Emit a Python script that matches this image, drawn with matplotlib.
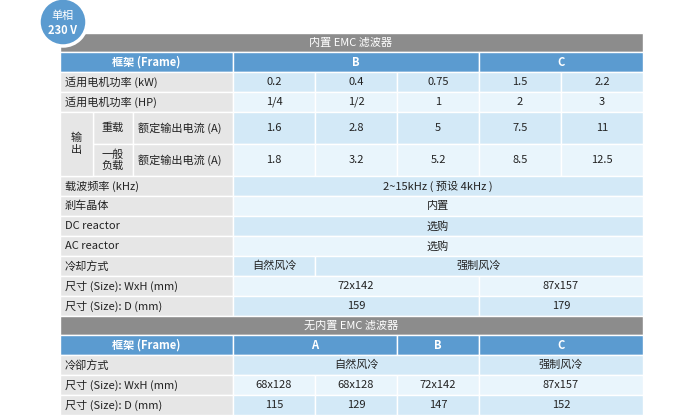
import matplotlib.pyplot as plt
from matplotlib.patches import Rectangle, Circle

plt.rcParams['font.family'] = ['Noto Sans CJK SC', 'DejaVu Sans']

# column edges (5 value columns)
col_x = [233, 315, 397, 479, 561, 643]
left = 60

# data: (label, [(text, span), ...])
top_title = "内置 EMC 滤波器"
top_frames = [("B", 3), ("C", 2)]
top_rows = [
    ("适用电机功率 (kW)", [("0.2", 1), ("0.4", 1), ("0.75", 1), ("1.5", 1), ("2.2", 1)]),
    ("适用电机功率 (HP)", [("1/4", 1), ("1/2", 1), ("1", 1), ("2", 1), ("3", 1)]),
    ("额定输出电流 (A)", [("1.6", 1), ("2.8", 1), ("5", 1), ("7.5", 1), ("11", 1)]),
    ("额定输出电流 (A)", [("1.8", 1), ("3.2", 1), ("5.2", 1), ("8.5", 1), ("12.5", 1)]),
    ("载波频率 (kHz)", [("2~15kHz ( 预设 4kHz )", 5)]),
    ("剎车晶体", [("内置", 5)]),
    ("DC reactor", [("选购", 5)]),
    ("AC reactor", [("选购", 5)]),
    ("冷却方式", [("自然风冷", 1), ("强制风冷", 4)]),
    ("尺寸 (Size): WxH (mm)", [("72x142", 3), ("87x157", 2)]),
    ("尺寸 (Size): D (mm)", [("159", 3), ("179", 2)]),
]
top_heights = [20, 20, 32, 32, 20, 20, 20, 20, 20, 20, 20]

bot_title = "无内置 EMC 滤波器"
bot_frames = [("A", 2), ("B", 1), ("C", 2)]
bot_rows = [
    ("冷卻方式", [("自然风冷", 3), ("强制风冷", 2)]),
    ("尺寸 (Size): WxH (mm)", [("68x128", 1), ("68x128", 1), ("72x142", 1), ("87x157", 2)]),
    ("尺寸 (Size): D (mm)", [("115", 1), ("129", 1), ("147", 1), ("152", 2)]),
]

GRAY = "#8c8c8c"
BLUE = "#5b9bd0"
LABEL = "#e6e6e6"
DARK = "#d3e9f7"
LIGHT = "#e9f5fc"
FS = 8

fig = plt.figure(figsize=(7, 4.19), dpi=100)
ax = fig.add_axes([0, 0, 1, 1])
ax.set_xlim(0, 700)
ax.set_ylim(419, 0)
ax.axis('off')


def cell(x0, y0, w, h, color, text="", tc="#222222", ha="center", bold=False):
    ax.add_patch(Rectangle((x0, y0), w, h, facecolor=color, edgecolor="white", lw=1))
    if text:
        tx = x0 + w / 2 if ha == "center" else x0 + 5
        ax.text(tx, y0 + h / 2, text, ha=ha, va="center", fontsize=FS, color=tc,
                fontweight="bold" if bold else "normal")


def values(y, h, cells, color):
    i = 0
    for txt, span in cells:
        cell(col_x[i], y, col_x[i + span] - col_x[i], h, color, txt)
        i += span


def section(y, title, frames, rows, heights, sub=False):
    cell(left, y, col_x[-1] - left, 19, GRAY)
    ax.text(351, y + 10, title, ha="center", va="center", fontsize=FS, color="white")
    y += 19
    cell(left, y, col_x[0] - left, 20, BLUE, "框架 (Frame)", tc="white", bold=True)
    values(y, 20, [(f, s) for f, s in frames], BLUE)
    for t in ax.texts[-len(frames):]:
        t.set_color("white"); t.set_fontweight("bold")
    y += 20
    for k, ((lab, cells), h) in enumerate(zip(rows, heights)):
        color = DARK if k % 2 == 0 else LIGHT
        if sub and k in (2, 3):
            cell(93, y, 40, h, LABEL, ["重载", "一般\n负载"][k - 2])
            cell(133, y, col_x[0] - 133, h, LABEL, lab, ha="left")
        else:
            cell(left, y, col_x[0] - left, h, LABEL, lab, ha="left")
        values(y, h, cells, color)
        y += h
    return y


y_end = section(33, top_title, top_frames, top_rows, top_heights, sub=True)
# merged 输出 cell
cell(left, 112, 33, 64, LABEL, "输\n出")
section(y_end, bot_title, bot_frames, bot_rows, [20, 20, 20])

# badge
ax.add_patch(Circle((63, 22), 24, facecolor=BLUE, edgecolor="white", lw=2.5, zorder=5))
ax.text(63, 16, "单相", ha="center", va="center", fontsize=8, color="white", zorder=6)
ax.text(63, 30, "230 V", ha="center", va="center", fontsize=8, color="white",
        fontweight="bold", zorder=6)

fig.savefig("out.png", dpi=100)
